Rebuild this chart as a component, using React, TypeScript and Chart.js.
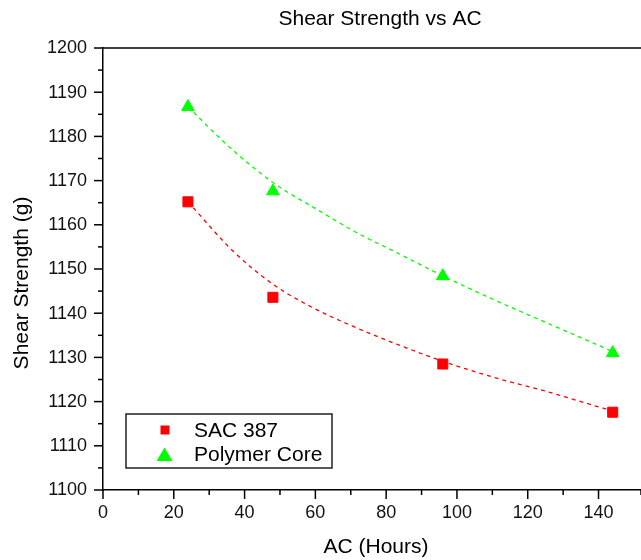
import React, { useEffect, useRef } from "react";
import { Chart, registerables } from "chart.js";

Chart.register(...registerables);

// ---- data ----
const hours = [24, 48, 96, 144];
const sac387 = [1165.2, 1143.6, 1128.5, 1117.6];
const polymerCore = [1186.7, 1167.6, 1148.4, 1131.0];

// dashed fit curves
const sacFitX = [24, 36.8, 48.1, 59.4, 70.7, 82, 96.1, 111.2, 125.3, 141.3, 144];
const sacFitY = [1165.2, 1154.0, 1146.5, 1141.2, 1137.0, 1133.3, 1129.1, 1125.3, 1122.3, 1118.5, 1117.9];
const polyFitX = [24, 35.4, 48.1, 60.4, 71.7, 83, 96.1, 110.3, 123.4, 139.5, 144];
const polyFitY = [1186.7, 1177.8, 1169.5, 1163.5, 1158.2, 1153.7, 1148.4, 1143.1, 1138.5, 1132.9, 1131.3];

const seriesNames = ["SAC 387", "Polymer Core"];
const chartTitle = "Shear Strength vs AC";
const xTitle = "AC (Hours)";
const yTitle = "Shear Strength (g)";

const FONT = "'Liberation Sans', Arial, sans-serif";
const RED = "#ff0000";
const GREEN = "#00ff00";

const pts = (xs: number[], ys: number[]) => xs.map((x, i) => ({ x, y: ys[i] }));

const decorPlugin = {
  id: "decor",
  afterDraw(chart: any) {
    const ctx = chart.ctx;
    const xs = chart.scales.x;
    const ys = chart.scales.y;
    const area = chart.chartArea;
    ctx.save();
    ctx.strokeStyle = "#000";
    ctx.lineWidth = 1.5;
    // top frame line
    ctx.beginPath();
    ctx.moveTo(area.left, area.top);
    ctx.lineTo(area.right, area.top);
    ctx.stroke();

    ctx.fillStyle = "#111";
    ctx.font = `18px ${FONT}`;
    // x ticks
    ctx.textAlign = "center";
    ctx.textBaseline = "alphabetic";
    xs.ticks.forEach((t: any) => {
      const px = xs.getPixelForValue(t.value);
      const major = Math.round(t.value) % 20 === 0;
      ctx.beginPath();
      ctx.moveTo(px, area.bottom);
      ctx.lineTo(px, area.bottom + (major ? 9 : 5));
      ctx.stroke();
      if (major) ctx.fillText(String(t.value), px, 518);
    });
    // y ticks
    ctx.textAlign = "right";
    ctx.textBaseline = "middle";
    ys.ticks.forEach((t: any) => {
      const py = ys.getPixelForValue(t.value);
      const major = Math.round(t.value) % 10 === 0;
      ctx.beginPath();
      ctx.moveTo(area.left, py);
      ctx.lineTo(area.left - (major ? 9 : 5), py);
      ctx.stroke();
      if (major) ctx.fillText(String(t.value), 87, py + 0.5);
    });

    // titles
    ctx.fillStyle = "#000";
    ctx.font = `21px ${FONT}`;
    ctx.textAlign = "center";
    ctx.textBaseline = "alphabetic";
    ctx.fillText(chartTitle, 380, 25);
    ctx.fillText(xTitle, 376, 553);
    ctx.save();
    ctx.translate(28, 283);
    ctx.rotate(-Math.PI / 2);
    ctx.fillText(yTitle, 0, 0);
    ctx.restore();

    // legend
    ctx.strokeStyle = "#222";
    ctx.lineWidth = 1.5;
    ctx.strokeRect(126, 414, 206, 54);
    ctx.fillStyle = RED;
    ctx.fillRect(160.5, 425.5, 9, 9);
    ctx.fillStyle = GREEN;
    ctx.beginPath();
    ctx.moveTo(164.5, 447.5);
    ctx.lineTo(172.5, 461);
    ctx.lineTo(156.5, 461);
    ctx.closePath();
    ctx.fill();
    ctx.fillStyle = "#000";
    ctx.font = `21px ${FONT}`;
    ctx.textAlign = "left";
    ctx.fillText(seriesNames[0], 194, 437);
    ctx.fillText(seriesNames[1], 194, 461);
    ctx.restore();
  },
};

export default function App() {
  const ref = useRef<HTMLCanvasElement | null>(null);
  useEffect(() => {
    if (!ref.current) return;
    const chart = new Chart(ref.current, {
      type: "scatter",
      data: {
        datasets: [
          {
            label: seriesNames[0] + " fit",
            data: pts(sacFitX, sacFitY),
            showLine: true,
            borderColor: RED,
            borderWidth: 1.3,
            borderDash: [4, 4],
            pointRadius: 0,
            cubicInterpolationMode: "monotone",
            order: 3,
          },
          {
            label: seriesNames[1] + " fit",
            data: pts(polyFitX, polyFitY),
            showLine: true,
            borderColor: GREEN,
            borderWidth: 1.3,
            borderDash: [4, 4],
            pointRadius: 0,
            cubicInterpolationMode: "monotone",
            order: 3,
          },
          {
            label: seriesNames[0],
            data: pts(hours, sac387),
            pointStyle: "rect",
            pointRadius: 7.1,
            backgroundColor: RED,
            borderColor: RED,
            borderWidth: 1,
            order: 1,
          },
          {
            label: seriesNames[1],
            data: pts(hours, polymerCore),
            pointStyle: "triangle",
            pointRadius: 7.3,
            backgroundColor: GREEN,
            borderColor: GREEN,
            borderWidth: 1,
            order: 1,
          },
        ],
      } as any,
      options: {
        responsive: false,
        animation: false,
        layout: { autoPadding: false, padding: { top: 48, left: 0, right: 0, bottom: 0 } },
        plugins: {
          legend: { display: false },
          title: { display: false },
          tooltip: { enabled: false },
        },
        elements: { line: { fill: false } },
        scales: {
          x: {
            type: "linear",
            min: 0,
            max: 152,
            ticks: { stepSize: 10, display: false },
            grid: { display: false },
            border: { display: true, color: "#000", width: 1.5 },
            afterFit: (s: any) => {
              s.height = 70;
              s.paddingLeft = 0;
              s.paddingRight = 0;
            },
          },
          y: {
            type: "linear",
            min: 1100,
            max: 1200,
            ticks: { stepSize: 5, display: false },
            grid: { display: false },
            border: { display: true, color: "#000", width: 1.5 },
            afterFit: (s: any) => {
              s.width = 103;
              s.paddingTop = 0;
              s.paddingBottom = 0;
            },
          },
        },
      } as any,
      plugins: [decorPlugin],
    });
    return () => chart.destroy();
  }, []);
  return (
    <div style={{ position: "absolute", left: 0, top: 0, width: 641, height: 560, background: "#fff" }}>
      <canvas ref={ref} width={641} height={560} />
    </div>
  );
}
